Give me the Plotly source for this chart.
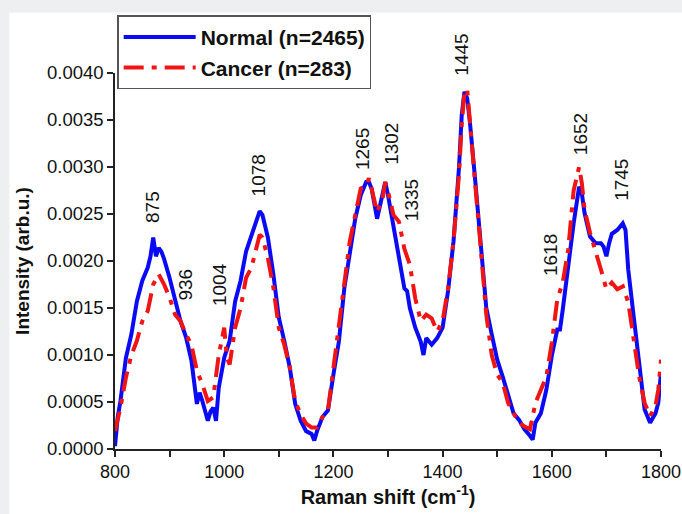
import plotly.graph_objects as go

# ---------------- data ----------------
normal_x = [800, 805, 810, 820, 830, 840, 850, 860, 865, 870, 875, 880, 885, 890, 900, 910, 920, 930, 940,
            950, 955, 960, 970, 975, 980, 985, 990, 1000, 1010, 1020, 1030, 1040, 1050, 1060, 1065, 1070,
            1080, 1090, 1100, 1110, 1120, 1130, 1140, 1150, 1160, 1165, 1170, 1180, 1190, 1200, 1210, 1220,
            1230, 1240, 1250, 1260, 1265, 1270, 1280, 1290, 1295, 1300, 1310, 1320, 1330, 1335, 1340, 1350,
            1360, 1365, 1370, 1380, 1390, 1400, 1410, 1420, 1430, 1435, 1440, 1445, 1450, 1460, 1470, 1480,
            1490, 1500, 1510, 1520, 1530, 1540, 1550, 1560, 1565, 1570, 1580, 1590, 1600, 1610, 1615, 1620,
            1630, 1640, 1650, 1655, 1660, 1670, 1680, 1690, 1695, 1700, 1705, 1710, 1720, 1730, 1735, 1740,
            1750, 1760, 1770, 1780, 1790, 1795, 1800]
normal_y = [0.00003, 0.00034, 0.00051, 0.00097, 0.00122, 0.00157, 0.00179, 0.00193, 0.00205, 0.00225, 0.00205,
            0.00214, 0.00210, 0.00202, 0.00182, 0.00157, 0.00136, 0.00119, 0.00094, 0.00048, 0.00060, 0.00051,
            0.00030, 0.00040, 0.00044, 0.00030, 0.00065, 0.00097, 0.00115, 0.00157, 0.00179, 0.00210, 0.00228,
            0.00246, 0.00253, 0.00249, 0.00225, 0.00186, 0.00140, 0.00115, 0.00087, 0.00048, 0.00030, 0.00019,
            0.00016, 0.00009, 0.00019, 0.00034, 0.00041, 0.00079, 0.00114, 0.00171, 0.00206, 0.00245, 0.00270,
            0.00284, 0.00284, 0.00277, 0.00245, 0.00270, 0.00284, 0.00270, 0.00235, 0.00206, 0.00171, 0.00168,
            0.00150, 0.00129, 0.00114, 0.00100, 0.00118, 0.00111, 0.00118, 0.00129, 0.00168, 0.00221, 0.00299,
            0.00355, 0.00380, 0.00373, 0.00348, 0.00284, 0.00221, 0.00150, 0.00122, 0.00095, 0.00077, 0.00056,
            0.00038, 0.00031, 0.00021, 0.00014, 0.00010, 0.00028, 0.00038, 0.00063, 0.00099, 0.00127, 0.00127,
            0.00148, 0.00198, 0.00240, 0.00279, 0.00272, 0.00251, 0.00226, 0.00219, 0.00219, 0.00215, 0.00205,
            0.00219, 0.00229, 0.00233, 0.00240, 0.00233, 0.00191, 0.00141, 0.00088, 0.00042, 0.00028, 0.00038,
            0.00049, 0.00081]

cancer_x = [800, 810, 820, 830, 840, 850, 860, 870, 880, 890, 900, 910, 920, 930, 940, 950, 960, 970, 980,
            990, 1000, 1005, 1010, 1020, 1030, 1040, 1050, 1060, 1065, 1070, 1080, 1090, 1100, 1110, 1120,
            1130, 1140, 1150, 1160, 1170, 1180, 1190, 1200, 1210, 1220, 1230, 1240, 1250, 1260, 1265, 1270,
            1280, 1290, 1295, 1300, 1310, 1320, 1330, 1340, 1350, 1360, 1370, 1380, 1390, 1400, 1410, 1420,
            1430, 1435, 1440, 1445, 1450, 1460, 1470, 1480, 1490, 1500, 1510, 1520, 1530, 1540, 1550, 1560,
            1570, 1580, 1590, 1600, 1610, 1620, 1630, 1640, 1650, 1655, 1660, 1670, 1680, 1690, 1700, 1710,
            1720, 1730, 1740, 1750, 1760, 1770, 1780, 1790, 1795, 1800]
cancer_y = [0.00019, 0.00044, 0.00076, 0.00100, 0.00115, 0.00136, 0.00147, 0.00175, 0.00186, 0.00175, 0.00161,
            0.00143, 0.00136, 0.00122, 0.00111, 0.00083, 0.00069, 0.00051, 0.00055, 0.00100, 0.00129, 0.00097,
            0.00090, 0.00129, 0.00150, 0.00182, 0.00193, 0.00214, 0.00228, 0.00225, 0.00203, 0.00172, 0.00129,
            0.00111, 0.00087, 0.00051, 0.00037, 0.00027, 0.00023, 0.00023, 0.00034, 0.00041, 0.00086, 0.00125,
            0.00178, 0.00221, 0.00249, 0.00277, 0.00280, 0.00288, 0.00277, 0.00252, 0.00266, 0.00284, 0.00274,
            0.00249, 0.00242, 0.00213, 0.00196, 0.00160, 0.00136, 0.00143, 0.00139, 0.00125, 0.00136, 0.00171,
            0.00221, 0.00292, 0.00345, 0.00380, 0.00383, 0.00352, 0.00280, 0.00213, 0.00143, 0.00100, 0.00079,
            0.00071, 0.00049, 0.00038, 0.00028, 0.00024, 0.00021, 0.00049, 0.00063, 0.00077, 0.00113, 0.00159,
            0.00177, 0.00212, 0.00275, 0.00300, 0.00283, 0.00255, 0.00230, 0.00212, 0.00191, 0.00170, 0.00177,
            0.00170, 0.00173, 0.00156, 0.00113, 0.00077, 0.00049, 0.00035, 0.00046, 0.00063, 0.00095]

series_names = ["Normal (n=2465)", "Cancer (n=283)"]
peak_labels = ["875", "936", "1004", "1078", "1265", "1302", "1335", "1445", "1618", "1652", "1745"]
x_ticks = [800, 1000, 1200, 1400, 1600, 1800]
y_ticks = [0.0, 0.0005, 0.0010, 0.0015, 0.0020, 0.0025, 0.0030, 0.0035, 0.0040]

# ---------------- layout constants ----------------
FONT = "Liberation Sans, Arial, Helvetica, sans-serif"
label_pos_x = [869, 929.5, 991.5, 1062.6, 1252.3, 1305.2, 1343.5, 1434.7, 1598.8, 1651.7, 1726.5]
label_pos_y = [0.00238, 0.001555, 0.00150, 0.00267, 0.002946, 0.0030, 0.0024, 0.003946, 0.00182, 0.003105, 0.002617]

fig = go.Figure()
fig.add_trace(go.Scatter(
    x=normal_x, y=normal_y, mode="lines", name=series_names[0], legendgroup="a",
    line=dict(color="#0a0af5", width=4), cliponaxis=False))
fig.add_trace(go.Scatter(
    x=cancer_x, y=cancer_y, mode="lines", name=series_names[1], legendgroup="b",
    line=dict(color="#f01414", width=4, dash="20px,8px,5px,8px"), cliponaxis=False))

for txt, lx, ly in zip(peak_labels, label_pos_x, label_pos_y):
    fig.add_annotation(x=lx, y=ly, text=txt, textangle=-90, showarrow=False,
                       xanchor="center", yanchor="bottom",
                       font=dict(family=FONT, size=19, color="#111"))

# white page area (reference has a light grey band on top and left)
fig.add_shape(type="rect", xref="paper", yref="paper", x0=-0.1933, x1=1.2, y0=-0.4, y1=1.16,
              fillcolor="white", line=dict(width=0), layer="below")

fig.update_layout(
    width=682, height=514,
    margin=dict(l=115, r=20.5, t=72.7, b=64.5, autoexpand=False),
    paper_bgcolor="#edeff1", plot_bgcolor="rgba(0,0,0,0)",
    font=dict(family=FONT, size=18, color="#111"),
    showlegend=True,
    legend=dict(x=0.004, y=1.153, xanchor="left", yanchor="top",
                bgcolor="white", bordercolor="#555", borderwidth=1.5,
                font=dict(family=FONT, size=21, color="#111", weight="bold"),
                itemwidth=72, tracegroupgap=13, traceorder="normal"),
    xaxis=dict(range=[800, 1800], tickvals=x_ticks, ticks="outside", ticklen=6, tickwidth=1.5,
               tickcolor="#222", showline=True, linecolor="#222", linewidth=1.5, showgrid=False,
               zeroline=False, tickfont=dict(size=18), ticklabeloverflow="allow", automargin=False,
               minor=dict(dtick=100, ticks="outside", ticklen=6, tickwidth=1.5, tickcolor="#222", showgrid=False),
               title=dict(text="<b>Raman shift (cm<sup>-1</sup>)</b>", font=dict(size=20), standoff=6)),
    yaxis=dict(range=[0, 0.0040], tickvals=y_ticks, tickformat=".4f", ticks="outside", ticklen=6,
               tickwidth=1.5, tickcolor="#222", showline=True, linecolor="#222", linewidth=1.5,
               showgrid=False, zeroline=False, tickfont=dict(size=18.5), automargin=False,
               title=dict(text="<b>Intensity (arb.u.)</b>", font=dict(size=19), standoff=12)),
)

fig.write_html("out.html", config={"displayModeBar": False},
               post_script="document.body.style.margin='0';")
